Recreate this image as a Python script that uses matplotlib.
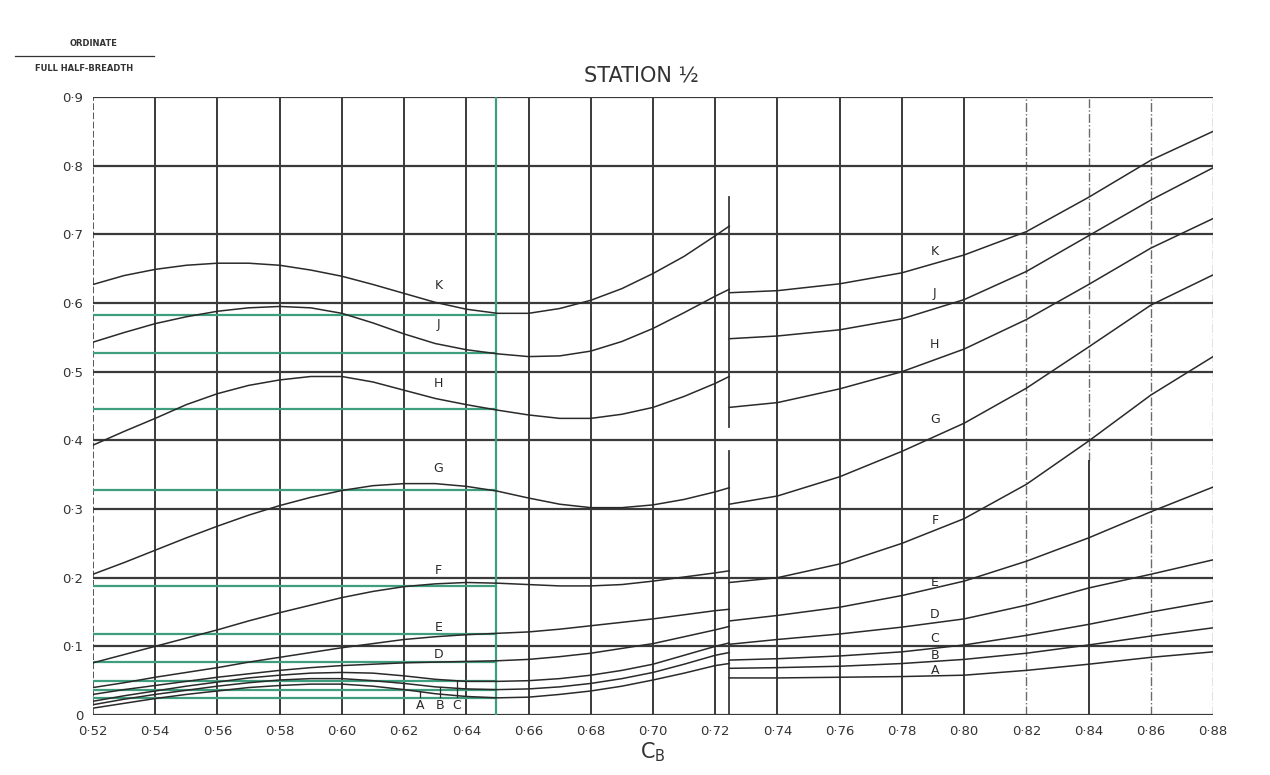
#!/usr/bin/env python3
# Station 1/2 ordinate chart (ordinate / full half-breadth against Cb)

import matplotlib
matplotlib.use('Agg')
import matplotlib.pyplot as plt
import numpy as np

# --- data ---
x_left = [0.52, 0.53, 0.54, 0.55, 0.56, 0.57, 0.58, 0.59, 0.60, 0.61, 0.62,
          0.63, 0.64, 0.65, 0.66, 0.67, 0.68, 0.69, 0.70, 0.71, 0.72, 0.7245]
x_right = [0.7245, 0.74, 0.76, 0.78, 0.80, 0.82, 0.84, 0.86, 0.88]

K_left = [0.627, 0.640, 0.649, 0.655, 0.658, 0.658, 0.655, 0.648, 0.639, 0.627, 0.614,
          0.601, 0.591, 0.585, 0.585, 0.592, 0.604, 0.621, 0.643, 0.668, 0.698, 0.712]
J_left = [0.543, 0.557, 0.570, 0.580, 0.588, 0.593, 0.595, 0.593, 0.585, 0.571, 0.555,
          0.541, 0.532, 0.526, 0.522, 0.523, 0.530, 0.544, 0.563, 0.586, 0.610, 0.620]
H_left = [0.393, 0.413, 0.432, 0.452, 0.468, 0.480, 0.488, 0.493, 0.493, 0.485, 0.473,
          0.461, 0.452, 0.444, 0.437, 0.432, 0.432, 0.438, 0.448, 0.464, 0.483, 0.493]
G_left = [0.205, 0.222, 0.240, 0.258, 0.275, 0.291, 0.305, 0.317, 0.327, 0.334, 0.337,
          0.337, 0.333, 0.326, 0.316, 0.307, 0.302, 0.302, 0.306, 0.314, 0.325, 0.331]
F_left = [0.076, 0.088, 0.100, 0.112, 0.124, 0.137, 0.149, 0.160, 0.171, 0.180, 0.187,
          0.191, 0.193, 0.192, 0.190, 0.188, 0.188, 0.190, 0.195, 0.201, 0.207, 0.210]
E_left = [0.040, 0.047, 0.055, 0.062, 0.069, 0.077, 0.084, 0.091, 0.098, 0.104, 0.110,
          0.114, 0.117, 0.119, 0.121, 0.125, 0.130, 0.135, 0.140, 0.146, 0.152, 0.154]
D_left = [0.030, 0.037, 0.043, 0.049, 0.055, 0.060, 0.065, 0.069, 0.072, 0.074, 0.076,
          0.077, 0.078, 0.079, 0.081, 0.085, 0.090, 0.097, 0.104, 0.114, 0.124, 0.129]
C_left = [0.020, 0.028, 0.035, 0.042, 0.048, 0.054, 0.058, 0.061, 0.062, 0.061, 0.057,
          0.052, 0.049, 0.049, 0.050, 0.053, 0.058, 0.065, 0.074, 0.087, 0.100, 0.105]
B_left = [0.015, 0.023, 0.030, 0.036, 0.042, 0.047, 0.051, 0.053, 0.053, 0.050, 0.046,
          0.041, 0.038, 0.037, 0.038, 0.041, 0.046, 0.053, 0.062, 0.074, 0.087, 0.091]
A_left = [0.010, 0.017, 0.024, 0.030, 0.035, 0.040, 0.043, 0.045, 0.045, 0.042, 0.037,
          0.031, 0.027, 0.025, 0.026, 0.030, 0.035, 0.042, 0.051, 0.061, 0.072, 0.075]

K_right = [0.615, 0.618, 0.628, 0.644, 0.670, 0.704, 0.754, 0.808, 0.850]
J_right = [0.548, 0.552, 0.561, 0.577, 0.605, 0.646, 0.698, 0.750, 0.797]
H_right = [0.448, 0.455, 0.475, 0.500, 0.533, 0.576, 0.627, 0.680, 0.723]
G_right = [0.307, 0.319, 0.347, 0.384, 0.425, 0.476, 0.536, 0.597, 0.641]
F_right = [0.193, 0.200, 0.220, 0.250, 0.286, 0.336, 0.399, 0.466, 0.522]
E_right = [0.137, 0.145, 0.157, 0.174, 0.195, 0.224, 0.258, 0.296, 0.332]
D_right = [0.103, 0.110, 0.118, 0.128, 0.140, 0.160, 0.185, 0.205, 0.226]
C_right = [0.080, 0.082, 0.086, 0.092, 0.102, 0.116, 0.132, 0.150, 0.166]
B_right = [0.068, 0.069, 0.071, 0.075, 0.081, 0.090, 0.102, 0.115, 0.127]
A_right = [0.054, 0.054, 0.055, 0.056, 0.058, 0.065, 0.074, 0.084, 0.092]

names = ['K', 'J', 'H', 'G', 'F', 'E', 'D', 'C', 'B', 'A']
lefts = [K_left, J_left, H_left, G_left, F_left, E_left, D_left, C_left, B_left, A_left]
rights = [K_right, J_right, H_right, G_right, F_right, E_right, D_right, C_right, B_right, A_right]

# green read-off at Cb = 0.6495
cb_read = 0.6495
green_levels = [0.583, 0.527, 0.445, 0.327, 0.188, 0.118, 0.077, 0.049, 0.037, 0.025]

# label spots
lab_left_x = 0.631
lab_left_y = {'K': 0.626, 'J': 0.568, 'H': 0.483, 'G': 0.359, 'F': 0.211, 'E': 0.127, 'D': 0.088}
abc_x = {'A': 0.625, 'B': 0.6315, 'C': 0.637}
lab_right_x = 0.7906
lab_right_y = {'K': 0.675, 'J': 0.614, 'H': 0.539, 'G': 0.430, 'F': 0.283, 'E': 0.193,
               'D': 0.146, 'C': 0.112, 'B': 0.087, 'A': 0.065}

xticks = np.round(np.arange(0.52, 0.881, 0.02), 2)
yticks = np.round(np.arange(0.0, 0.91, 0.1), 1)

ink = '#3a3a3a'
green = '#3f9f7c'

fig = plt.figure(figsize=(12.7, 7.75), dpi=100)
ax = fig.add_axes([0.0732, 0.0774, 0.882, 0.7974])
ax.set_xlim(0.52, 0.88)
ax.set_ylim(0, 0.9)
for s in ax.spines.values():
    s.set_visible(False)

# grid
for xv in xticks:
    if xv in (0.82, 0.86, 0.88):
        ax.plot([xv, xv], [0, 0.9], color=ink, lw=1.0, ls='-.', alpha=0.75)
    elif xv == 0.84:
        ax.plot([xv, xv], [0, 0.37], color=ink, lw=1.4)
        ax.plot([xv, xv], [0.37, 0.9], color=ink, lw=1.0, ls='-.', alpha=0.75)
    elif xv == 0.52:
        ax.plot([xv, xv], [0, 0.9], color=ink, lw=1.2, ls=(0, (4, 1.5)))
    else:
        ax.plot([xv, xv], [0, 0.9], color=ink, lw=1.4)
for yv in yticks:
    ax.plot([0.52, 0.88], [yv, yv], color=ink, lw=1.6)

# break line between the two families
ax.plot([0.7245, 0.7245], [0.42, 0.755], color=ink, lw=1.3)
ax.plot([0.7245, 0.7245], [0.0, 0.385], color=ink, lw=1.3)

# green read-off
ax.plot([cb_read, cb_read], [0, 0.9], color=green, lw=1.6)
for gl in green_levels:
    ax.plot([0.52, cb_read], [gl, gl], color=green, lw=1.6)

# curves
for nm, yl, yr in zip(names, lefts, rights):
    ax.plot(x_left, yl, color='#2a2a2a', lw=1.1)
    ax.plot(x_right, yr, color='#2a2a2a', lw=1.1)
    ax.text(lab_right_x, lab_right_y[nm], nm, fontsize=9, ha='center', va='center',
            color='#2a2a2a')
    if nm in lab_left_y:
        ax.text(lab_left_x, lab_left_y[nm], nm, fontsize=9, ha='center', va='center',
                color='#2a2a2a')

# A, B, C leaders near the bottom
for nm, yl in zip(names, lefts):
    if nm in abc_x:
        xa = abc_x[nm]
        top = np.interp(xa, x_left, yl)
        ax.plot([xa, xa], [0.026, top], color='#2a2a2a', lw=0.9)
        ax.text(xa, 0.014, nm, fontsize=9, ha='center', va='center', color='#2a2a2a')

ax.set_xticks(xticks)
ax.set_xticklabels(['0·%02d' % round(v * 100) for v in xticks], fontsize=9.5, color='#333333')
ax.set_yticks(yticks)
ax.set_yticklabels(['0'] + ['0·%d' % round(v * 10) for v in yticks[1:]], fontsize=9.5,
                   color='#333333')
ax.tick_params(length=0, pad=7)

ax.set_xlabel(r'C$_{\mathrm{B}}$', fontsize=15, color='#333333', labelpad=2)
fig.text(0.505, 0.902, 'STATION ½', fontsize=15, ha='center', va='center', color='#333333')

fig.text(0.074, 0.944, 'ORDINATE', fontsize=6, ha='center', va='center', color='#333333',
         fontweight='bold')
fig.add_artist(plt.Line2D([0.012, 0.121], [0.928, 0.928], color='#333333', lw=0.9))
fig.text(0.066, 0.912, 'FULL HALF-BREADTH', fontsize=6, ha='center', va='center',
         color='#333333', fontweight='bold')

plt.savefig('out.png', dpi=100)
plt.close()
